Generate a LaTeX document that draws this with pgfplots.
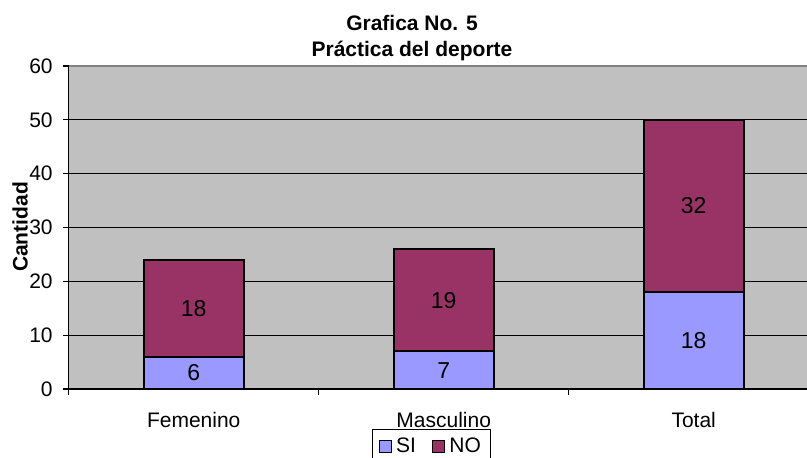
\documentclass[border=0pt]{standalone}
\usepackage{pgfplots}
\usepackage{pgfplotstable}
\pgfplotsset{compat=1.18}
\usepackage{fontspec}
\setmainfont{Liberation Sans}

\definecolor{siblue}{HTML}{9999FF}
\definecolor{nored}{HTML}{993366}
\definecolor{plotgray}{HTML}{C0C0C0}
\definecolor{borderg}{HTML}{808080}
\newcommand\chartfont{\fontsize{10.5}{12.6}\selectfont}
\newcommand\valuefont{\fontsize{11.5}{13.8}\selectfont}

% Practice of sport by sex: SI / NO counts
\pgfplotstableread{
x si no
0 6  18
1 7  19
2 18 32
}\deporte

\begin{document}
\begin{tikzpicture}[font=\chartfont]
\useasboundingbox (0,0) rectangle (403.5pt,229pt);
\clip (0,0) rectangle (403.5pt,229pt);
\begin{axis}[
  name=ax,
  at={(34.35pt,34.5pt)}, anchor=south west,
  scale only axis, width=375pt, height=161.5pt,
  ybar stacked, bar width=0.4,
  xmin=-0.5, xmax=2.5, ymin=0, ymax=60,
  ytick={0,10,...,60},
  xtick={0,1,2}, xticklabels={Femenino,Masculino,Total},
  minor xtick={-0.5,0.5,1.5,2.5},
  major x tick style={draw=none},
  tick align=outside, major tick length=3pt, minor tick length=3pt,
  tick style={black, line width=0.6pt},
  axis x line*=bottom, axis y line*=left,
  axis line style={black, line width=0.6pt},
  axis background/.style={fill=plotgray},
  ymajorgrids, grid style={black, line width=0.5pt},
  /pgf/number format/assume math mode=true,
  tick label style={font=\chartfont},
  yticklabel style={anchor=east, xshift=-1.5pt},
  xticklabel style={yshift=-5pt},
  legend style={at={(0.4044,-0.1238)}, anchor=north west, draw=black,
    line width=0.5pt, fill=white, legend columns=2, font=\chartfont,
    inner xsep=3pt, inner ysep=2pt,
    /tikz/every even column/.append style={column sep=6pt}},
  legend image code/.code={\draw[#1, line width=0.75pt] (0pt,-3pt) rectangle (6pt,3pt);},
  point meta=explicit,
  nodes near coords,
  every node near coord/.append style={anchor=center, font=\valuefont, text=black},
]
\addplot[fill=siblue, draw=black, line width=1pt]
  table[x=x, y=si, meta=si] {\deporte};
\addplot[fill=nored, draw=black, line width=1pt]
  table[x=x, y=no, meta=no] {\deporte};
\legend{SI,NO}
\end{axis}
\draw[borderg, line width=1pt] (ax.north west) -- (ax.north east);
\node[anchor=base, font=\chartfont\bfseries] at (206pt,213.5pt) {Grafica No. 5};
\node[anchor=base, font=\chartfont\bfseries] at (206pt,200.5pt) {Práctica del deporte};
\node[rotate=90, font=\chartfont\bfseries] at (10pt,115.5pt) {Cantidad};
\end{tikzpicture}
\end{document}
